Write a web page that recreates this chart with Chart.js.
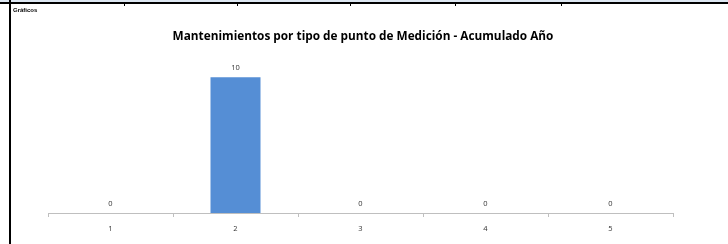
<!DOCTYPE html>
<html><head><meta charset="utf-8">
<script src="https://cdn.jsdelivr.net/npm/chart.js@4/dist/chart.umd.min.js"></script>
<style>html,body{margin:0;padding:0;background:#fff;}#wrap{width:728px;height:244px;position:relative;}</style>
</head><body><div id="wrap"><canvas id="c" width="728" height="244"></canvas></div>
<script>
const categories = ["1","2","3","4","5"];
const values = [0,10,0,0,0];
const chartTitle = "Mantenimientos por tipo de punto de Medición - Acumulado Año";
const sheetLabel = "Gráficos";
const cellTicks = [124,237,350,455,561];

const decor = {
  id:'decor',
  beforeDraw(chart){
    const ctx = chart.ctx;
    ctx.save();
    ctx.fillStyle='#fff'; ctx.fillRect(0,0,728,244);
    ctx.fillStyle='#dce6f1'; ctx.fillRect(0,0,728,2);
    ctx.fillStyle='#000'; ctx.fillRect(0,2,728,2);
    ctx.fillRect(9,0,2,244);
    cellTicks.forEach(x=>ctx.fillRect(x,4,1,2));
    ctx.fillStyle='#000';
    ctx.font='bold 6px "Liberation Sans", Arial, sans-serif';
    ctx.textBaseline='middle'; ctx.textAlign='left';
    ctx.fillText(sheetLabel,13,10);
    ctx.font='bold 11.8px "Open Sans", sans-serif';
    ctx.textAlign='center';
    ctx.fillText(chartTitle,363,37);
    ctx.restore();
  },
  afterDatasetsDraw(chart){
    const ctx=chart.ctx; const meta=chart.getDatasetMeta(0);
    ctx.save();
    ctx.fillStyle='#333333';
    ctx.font='7.5px "Open Sans", sans-serif';
    ctx.textAlign='center'; ctx.textBaseline='middle';
    meta.data.forEach((el,i)=>{ ctx.fillText(String(values[i]), el.x, el.y-9); });
    ctx.restore();
  }
};

new Chart(document.getElementById('c'),{
  type:'bar',
  data:{labels:categories,datasets:[{data:values,backgroundColor:'#558ed5',borderWidth:0,categoryPercentage:1,barPercentage:0.4}]},
  options:{
    responsive:false,animation:false,
    layout:{padding:{left:48,right:55,top:50,bottom:0}},
    plugins:{legend:{display:false},title:{display:false},tooltip:{enabled:false}},
    scales:{
      x:{offset:true,
        grid:{offset:true,drawOnChartArea:false,drawTicks:true,tickLength:4,color:'#bfbfbf'},
        border:{display:true,color:'#bfbfbf',width:1},
        ticks:{color:'#333333',font:{family:'"Open Sans", sans-serif',size:7.5},padding:7,maxRotation:0},
        afterFit(s){s.height=31;}
      },
      y:{display:false,min:0,max:12}
    }
  },
  plugins:[decor]
});
</script></body></html>
